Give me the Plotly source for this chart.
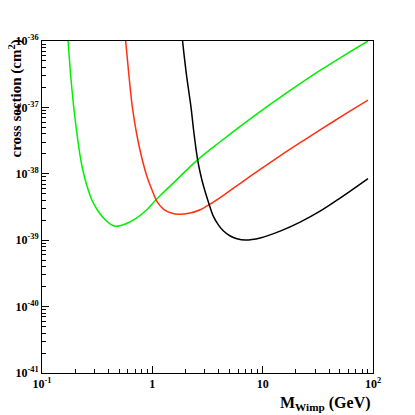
import plotly.graph_objects as go

# WIMP mass (GeV) and cross section (cm^2) for each curve
mass_green = [0.1726, 0.1811, 0.1940, 0.2069, 0.2208, 0.2342, 0.2541, 0.2834, 0.3178, 0.3625,
              0.4168, 0.4626, 0.5697, 0.7017, 0.8644, 1.064, 1.181, 1.615, 2.554, 4.125,
              6.258, 9.493, 14.40, 21.85, 33.14, 55.81, 90.1]
xsec_green = [1.0e-36, 3.30e-37, 1.01e-37, 4.12e-38, 1.92e-38, 1.14e-38, 6.78e-39, 4.03e-39, 2.85e-39, 2.14e-39,
              1.75e-39, 1.62e-39, 1.75e-39, 2.09e-39, 2.75e-39, 3.96e-39, 4.71e-39, 7.76e-39, 1.61e-38, 3.04e-38,
              5.18e-38, 8.65e-38, 1.415e-37, 2.275e-37, 3.60e-37, 6.20e-37, 1.0e-36]

mass_red = [0.5733, 0.6129, 0.6592, 0.7240, 0.8035, 0.8954, 0.9938, 1.103, 1.266, 1.508,
            1.730, 2.207, 2.719, 3.348, 4.578, 6.661, 9.493, 14.40, 21.85, 33.14, 55.81, 90.1]
xsec_red = [1.0e-36, 3.08e-37, 1.01e-37, 3.84e-38, 1.73e-38, 9.04e-39, 5.70e-39, 3.80e-39, 2.92e-39, 2.54e-39,
            2.45e-39, 2.57e-39, 2.88e-39, 3.50e-39, 4.95e-39, 7.71e-39, 1.164e-38, 1.866e-38, 2.94e-38, 4.58e-38,
            7.90e-38, 1.288e-37]

mass_black = [1.880, 1.948, 2.031, 2.130, 2.239, 2.365, 2.496, 2.578, 2.683, 2.814, 2.980, 3.232, 3.587,
              3.981, 4.418, 5.081, 5.843, 6.944, 9.493, 14.40, 21.85, 33.14, 50.28, 90.1]
xsec_black = [1.0e-36, 5.80e-37, 3.26e-37, 1.83e-37, 1.02e-37, 4.57e-38, 2.28e-38, 1.61e-38, 1.14e-38, 8.07e-39,
              5.70e-39, 3.70e-39, 2.26e-39, 1.69e-39, 1.375e-39, 1.157e-39, 1.054e-39, 1.007e-39, 1.083e-39,
              1.371e-39, 1.875e-39, 2.74e-39, 4.31e-39, 8.49e-39]

x_tickvals = [0.1, 1, 10, 100]
x_ticktext = ["10<sup>-1</sup>", "1", "10", "10<sup>2</sup>"]
y_tickvals = [1e-41, 1e-40, 1e-39, 1e-38, 1e-37, 1e-36]
y_ticktext = ["10<sup>-41</sup>", "10<sup>-40</sup>", "10<sup>-39</sup>", "10<sup>-38</sup>", "10<sup>-37</sup>", "10<sup>-36</sup>"]

FONT = "Liberation Serif"

fig = go.Figure()
for xs, ys, col in [(mass_green, xsec_green, "#00f000"),
                    (mass_red, xsec_red, "#ff3010"),
                    (mass_black, xsec_black, "#000000")]:
    fig.add_trace(go.Scatter(x=xs, y=ys, mode="lines",
                             line=dict(color=col, width=1.5, shape="spline", smoothing=1.0),
                             showlegend=False, hoverinfo="skip"))

# page body has an 8px offset, so the figure is 407px and margins are shifted
fig.update_layout(
    width=407, height=407,
    margin=dict(l=34, r=42, t=33, b=42),
    paper_bgcolor="white", plot_bgcolor="white",
    font=dict(family=FONT, color="black", size=12),
)
common = dict(
    type="log", tickmode="array",
    ticks="inside", ticklen=7, tickwidth=1, tickcolor="black",
    minor=dict(ticks="inside", ticklen=4, dtick="D1", tickcolor="black", tickwidth=1, showgrid=False),
    showline=True, linecolor="black", linewidth=1, mirror=True,
    showgrid=False, zeroline=False, automargin=False,
    tickfont=dict(family=FONT, size=12),
)
fig.update_xaxes(range=[-1, 2], tickvals=x_tickvals,
                 ticktext=[f"<b>{t}</b>" for t in x_ticktext], **common)
fig.update_yaxes(range=[-41, -36], tickvals=y_tickvals,
                 ticktext=[f"<b>{t}</b>" for t in y_ticktext], **common)
fig.add_annotation(text="<b>cross section (cm<sup>2</sup>)</b>", xref="paper", yref="paper",
                   x=-0.079, y=1.01, xanchor="center", yanchor="top", textangle=-90,
                   showarrow=False, font=dict(family=FONT, size=15))
fig.add_annotation(text="<b>M<sub>Wimp</sub> (GeV)</b>", xref="paper", yref="paper",
                   x=1.0, y=-0.058, xanchor="right", yanchor="top",
                   showarrow=False, font=dict(family=FONT, size=16))

fig.write_html("out.html")
